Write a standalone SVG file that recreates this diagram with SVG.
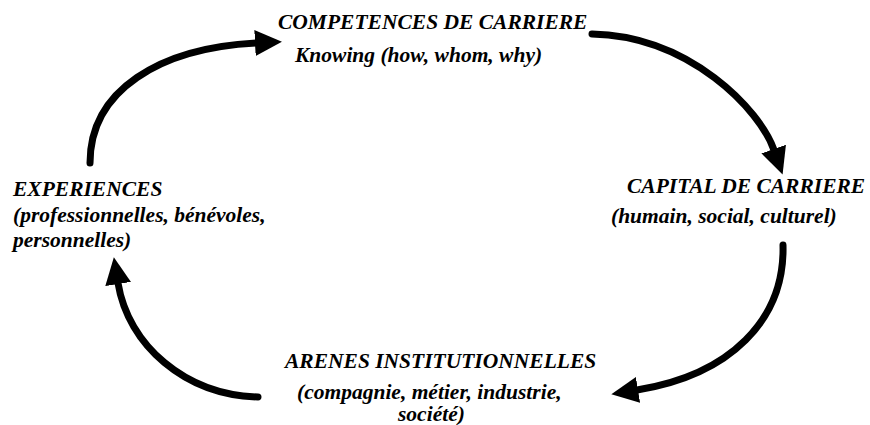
<svg xmlns="http://www.w3.org/2000/svg" width="870" height="425" viewBox="0 0 870 425">
<style>
  text { font-family: "Liberation Serif", "Times New Roman", serif; font-weight: bold; font-style: italic; font-size: 21.5px; fill: #000; }
  .arc { fill: none; stroke: #000; stroke-width: 7; stroke-linecap: round; }
</style>
<defs>
  <marker id="head" markerUnits="userSpaceOnUse" markerWidth="30" markerHeight="30" viewBox="0 -15 30 30" refX="1" refY="0" orient="auto">
    <path d="M0,-13 L27,0 L0,13 Z" fill="#000"/>
  </marker>
</defs>
<rect width="870" height="425" fill="#fff"/>
<g id="connectors">
  <path class="arc" d="M90,163 C90,90 160,48 256,43" marker-end="url(#head)"/>
  <path class="arc" d="M592,34 C690,36 760,110 774,150" marker-end="url(#head)"/>
  <path class="arc" d="M783,245 C785,320 730,375 637,390" marker-end="url(#head)"/>
  <path class="arc" d="M258,397 C185,395 128,345 118,283" marker-end="url(#head)"/>
</g>
<g id="competences">
  <text x="278" y="29">COMPETENCES DE CARRIERE</text>
  <text x="295" y="62">Knowing (how, whom, why)</text>
</g>
<g id="capital">
  <text x="627" y="193">CAPITAL DE CARRIERE</text>
  <text x="611" y="223">(humain, social, culturel)</text>
</g>
<g id="arenes">
  <text x="285" y="368">ARENES INSTITUTIONNELLES</text>
  <text x="297" y="399">(compagnie, métier, industrie,</text>
  <text x="398" y="421">société)</text>
</g>
<g id="experiences">
  <text x="13" y="196">EXPERIENCES</text>
  <text x="13" y="222">(professionnelles, bénévoles,</text>
  <text x="13" y="247">personnelles)</text>
</g>
</svg>
